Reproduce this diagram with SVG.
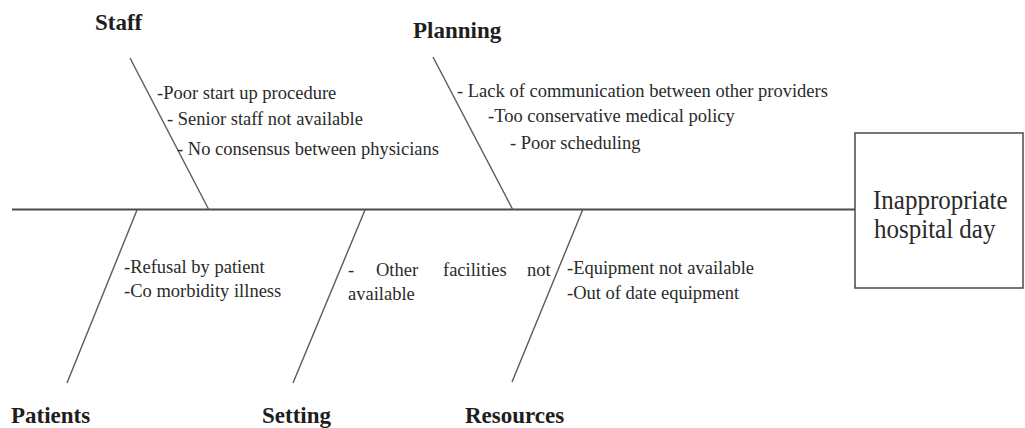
<svg xmlns="http://www.w3.org/2000/svg" width="1025" height="428" viewBox="0 0 1025 428">
<style>
.bone{stroke:#5a5a5a;stroke-width:1.4;fill:none}
.spine{stroke:#4a4a4a;stroke-width:2;fill:none}
.lbl{font-family:"Liberation Serif","Times New Roman",serif;font-weight:bold;font-size:23px;fill:#1e1e1e}
.t{font-family:"Liberation Serif","Times New Roman",serif;font-size:18.5px;fill:#2a2a2a}
.eff{font-family:"Liberation Serif","Times New Roman",serif;font-size:25px;fill:#2a2a2a}
</style>
<rect width="1025" height="428" fill="#fff"/>
<g id="connectors">
<line class="spine" x1="12" y1="209.5" x2="855" y2="209.5"/>
<line class="bone" x1="130" y1="58" x2="209" y2="210"/>
<line class="bone" x1="433" y1="57" x2="513" y2="210"/>
<line class="bone" x1="137" y1="210" x2="67" y2="383"/>
<line class="bone" x1="365" y1="210" x2="293" y2="383"/>
<line class="bone" x1="583" y1="209" x2="512" y2="382"/>
</g>
<g id="effect">
<rect x="855" y="133" width="168" height="155" fill="#fff" stroke="#4a4a4a" stroke-width="1.5"/>
<text class="eff" transform="translate(873,209) scale(1,1.1)">Inappropriate</text>
<text class="eff" transform="translate(874,238) scale(1,1.1)">hospital day</text>
</g>
<g id="staff">
<text class="lbl" x="95" y="30">Staff</text>
<text class="t" x="157" y="99">-Poor start up procedure</text>
<text class="t" x="167" y="125">- Senior staff not available</text>
<text class="t" x="177" y="155">- No consensus between physicians</text>
</g>
<g id="planning">
<text class="lbl" x="413" y="38">Planning</text>
<text class="t" x="457" y="97">- Lack of communication between other providers</text>
<text class="t" x="488" y="122">-Too conservative medical policy</text>
<text class="t" x="510" y="149">-  Poor scheduling</text>
</g>
<g id="patients">
<text class="lbl" x="11" y="423">Patients</text>
<text class="t" x="124" y="273">-Refusal by patient</text>
<text class="t" x="124" y="297">-Co morbidity illness</text>
</g>
<g id="setting">
<text class="lbl" x="262" y="423">Setting</text>
<text class="t" x="348" y="276">-</text>
<text class="t" x="376" y="276">Other</text>
<text class="t" x="443" y="276">facilities</text>
<text class="t" x="527" y="276">not</text>
<text class="t" x="348" y="300">available</text>
</g>
<g id="resources">
<text class="lbl" x="465" y="423">Resources</text>
<text class="t" x="567" y="274">-Equipment not available</text>
<text class="t" x="567" y="299">-Out of date equipment</text>
</g>
</svg>
